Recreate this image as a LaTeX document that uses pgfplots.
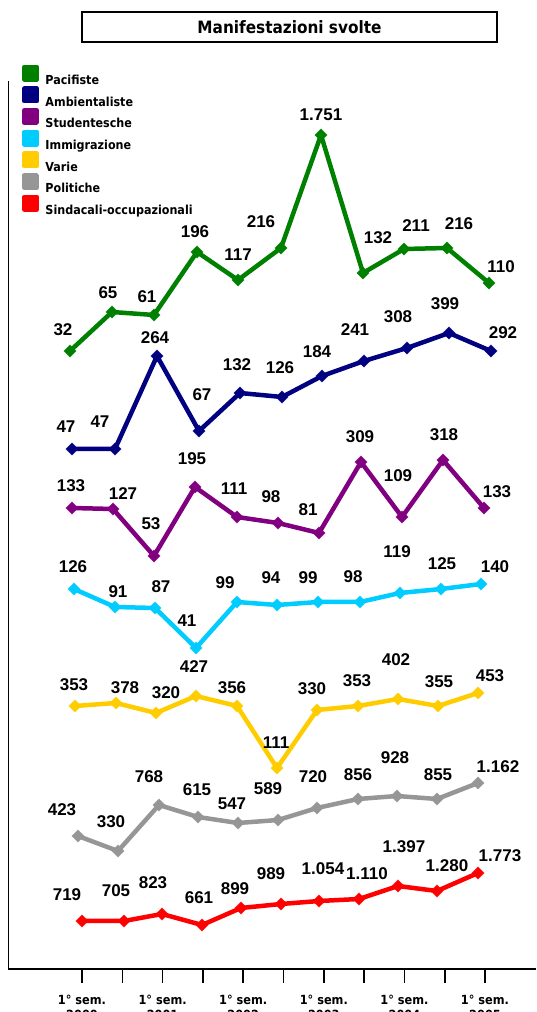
\documentclass[border=0pt]{standalone}
\usepackage{pgfplots}
\pgfplotsset{compat=1.18}
\usepackage{pgfplotstable}
\usepackage{fontspec}
\setmainfont{Liberation Sans}
\newfontfamily\cond{DejaVu Sans Condensed}
\newfontfamily\vals{Liberation Sans}

\definecolor{cPac}{HTML}{008000}
\definecolor{cAmb}{HTML}{000080}
\definecolor{cStu}{HTML}{800080}
\definecolor{cImm}{HTML}{00CCFF}
\definecolor{cVar}{HTML}{FFCC00}
\definecolor{cPol}{HTML}{969696}
\definecolor{cSin}{HTML}{FF0000}

% x, y: point position; lx, ly: label position (picture pixels, y downward)
\pgfplotstableread{
x y lx ly label
70 351 63 330 32
112 312 108 293 65
154 315 147 297 61
197 252 195 232 196
238 280 238 255 117
281 248 261 222 216
321 135 321 115 1.751
363 273 378 238 132
404 249 416 226 211
447 248 459 224 216
489 283 501 267 110
}\pac
\pgfplotstableread{
x y lx ly label
72 449 66 427 47
115 449 100 422 47
157 356 155 338 264
199 431 202 395 67
240 393 237 365 132
282 397 280 368 126
322 376 317 352 184
364 361 355 330 241
407 348 398 317 308
449 333 445 304 399
491 351 503 333 292
}\amb
\pgfplotstableread{
x y lx ly label
72 508 71 486 133
113 509 123 494 127
154 556 151 524 53
195 487 192 459 195
237 517 234 489 111
278 523 271 497 98
319 533 308 510 81
361 462 360 437 309
402 517 398 476 109
443 460 444 435 318
484 508 497 492 133
}\stu
\pgfplotstableread{
x y lx ly label
74 589 73 567 126
115 607 118 592 91
155 608 161 587 87
196 648 187 621 41
237 602 225 583 99
277 605 271 578 94
318 602 308 578 99
360 602 353 577 98
400 593 397 552 119
441 589 442 564 125
481 584 495 567 140
}\imm
\pgfplotstableread{
x y lx ly label
75 706 74 685 353
116 703 125 688 378
156 713 166 693 320
196 696 194 667 427
237 706 232 688 356
277 768 276 743 111
317 710 312 689 330
358 706 357 681 353
398 699 396 660 402
438 706 439 682 355
478 693 490 676 453
}\var
\pgfplotstableread{
x y lx ly label
78 836 62 810 423
118 851 111 822 330
159 805 149 777 768
198 817 197 790 615
238 823 232 804 547
278 820 268 789 589
317 808 313 777 720
358 799 358 775 856
397 796 395 758 928
437 799 438 775 855
478 783 498 767 1.162
}\pol
\pgfplotstableread{
x y lx ly label
82 921 67 895 719
124 921 116 891 705
162 914 153 883 823
202 925 199 898 661
241 908 235 889 899
281 904 271 874 989
319 901 323 869 1.054
359 899 367 874 1.110
398 886 404 847 1.397
437 891 447 866 1.280
478 873 500 856 1.773
}\sin

\pgfplotsset{
  ser/.style={
    color=#1, line width=4.5pt, line join=round,
    mark=square*, mark size=4.4pt,
    mark options={rotate=45, solid, line width=0.3pt, fill=#1},
    nodes near coords, point meta=explicit symbolic,
    visualization depends on={\thisrow{lx}-\thisrow{x}\as\dx},
    visualization depends on={\thisrow{y}-\thisrow{ly}\as\dy},
    nodes near coords style={anchor=center, xshift=\dx pt, yshift=\dy pt,
      font=\vals\bfseries\fontsize{17}{20}\selectfont, text=black, inner sep=0pt},
  },
}

\begin{document}
\begin{tikzpicture}
\begin{axis}[
  at={(8.5pt,43pt)}, anchor=south west, scale only axis,
  width=527.5pt, height=888pt,
  xmin=8.5, xmax=536, ymin=43, ymax=931,
  axis x line*=bottom, axis y line*=left,
  axis line style={line width=1.6pt, -},
  ytick=\empty,
  xtick={82,122.3,162.6,202.9,243.2,283.5,323.8,364.1,404.4,444.7,485},
  xticklabels={{1° sem.\\2000},{},{1° sem.\\2001},{},{1° sem.\\2002},{},{1° sem.\\2003},{},{1° sem.\\2004},{},{1° sem.\\2005}},
  tick align=outside, major tick length=13.7pt,
  tick style={line width=1.6pt, black},
  xticklabel style={font=\cond\bfseries\fontsize{12.6}{15}\selectfont, align=center, yshift=-9pt},
  clip=false,
  legend image code/.code={\fill[#1] (0pt,-0.65pt) rectangle (12.5pt,11.85pt);},
  legend style={at={(axis cs:22,947.25)}, anchor=north west, draw=none, fill=none,
    inner sep=0pt, outer sep=0pt, row sep=1.3pt, column sep=6.5pt,
    font=\cond\bfseries\fontsize{12.4}{14}\selectfont,
    nodes={inner sep=0pt, text height=11.85pt, text depth=0.65pt}},
  legend cell align=left,
]
\addplot[ser=cPac] table[x=x, y expr=1012-\thisrow{y}, meta=label] {\pac};
\addlegendentry{Pacifiste}
\addplot[ser=cAmb] table[x=x, y expr=1012-\thisrow{y}, meta=label] {\amb};
\addlegendentry{Ambientaliste}
\addplot[ser=cStu] table[x=x, y expr=1012-\thisrow{y}, meta=label] {\stu};
\addlegendentry{Studentesche}
\addplot[ser=cImm] table[x=x, y expr=1012-\thisrow{y}, meta=label] {\imm};
\addlegendentry{Immigrazione}
\addplot[ser=cVar] table[x=x, y expr=1012-\thisrow{y}, meta=label] {\var};
\addlegendentry{Varie}
\addplot[ser=cPol] table[x=x, y expr=1012-\thisrow{y}, meta=label] {\pol};
\addlegendentry{Politiche}
\addplot[ser=cSin] table[x=x, y expr=1012-\thisrow{y}, meta=label] {\sin};
\addlegendentry{Sindacali-occupazionali}
\end{axis}
\draw[line width=2pt] (82pt,970pt) rectangle (497pt,1000pt);
\draw[line width=1pt] (83pt,969.3pt) -- (497.8pt,969.3pt) -- (497.8pt,999pt);
\node[font=\cond\bfseries\fontsize{17}{20}\selectfont, inner sep=0pt] at (289.5pt,985pt) {Manifestazioni svolte};
\pgfresetboundingbox
\useasboundingbox (0pt,0pt) rectangle (536pt,1012pt);
\end{tikzpicture}
\end{document}
